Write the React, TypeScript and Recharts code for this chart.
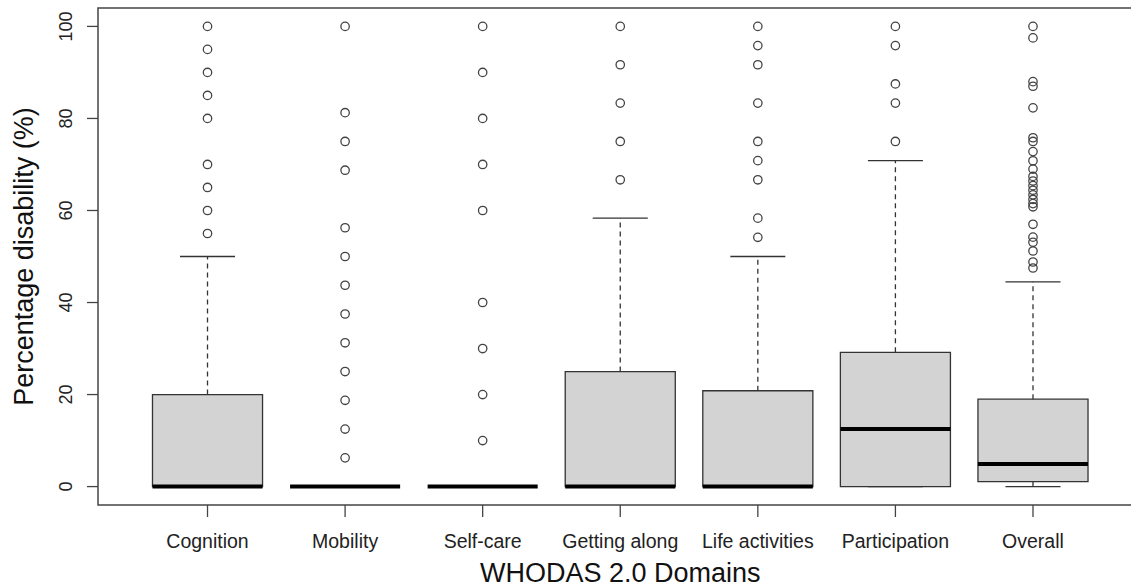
import React from 'react';
import { ComposedChart, XAxis, YAxis, Scatter, ReferenceArea, ReferenceLine } from 'recharts';

// WHODAS 2.0 domain boxplot
const domains = ['Cognition', 'Mobility', 'Self-care', 'Getting along', 'Life activities', 'Participation', 'Overall'];
const lowerWhisker = [0, 0, 0, 0, 0, 0, 0];
const q1 = [0, 0, 0, 0, 0, 0, 1.1];
const median = [0, 0, 0, 0, 0, 12.5, 4.9];
const q3 = [20, 0, 0, 25, 20.83, 29.17, 19];
const upperWhisker = [50, 0, 0, 58.33, 50, 70.83, 44.5];
const outliers = [
  [100, 95, 90, 85, 80, 70, 65, 60, 55],
  [100, 81.25, 75, 68.75, 56.25, 50, 43.75, 37.5, 31.25, 25, 18.75, 12.5, 6.25],
  [100, 90, 80, 70, 60, 40, 30, 20, 10],
  [100, 91.67, 83.33, 75, 66.67],
  [100, 95.83, 91.67, 83.33, 75, 70.83, 66.67, 58.33, 54.17],
  [100, 95.83, 87.5, 83.33, 75],
  [100, 97.5, 88, 87, 82.3, 75.8, 75, 72.8, 70.8, 69, 67.4, 66.4, 65.4, 64.4, 63.4, 62.4, 61.5, 60.8, 57, 54.2, 53.1, 51.2, 48.8, 47.5],
];
const yTicks = [0, 20, 40, 60, 80, 100];
const xTicks = [1, 2, 3, 4, 5, 6, 7];

const font = '"Liberation Sans", Arial, sans-serif';
const ink = '#333';

const outlierData = outliers.flatMap((vals, i) => vals.map((v) => ({ x: i + 1, y: v })));

const XTick = ({ x, y, payload }: any) => (
  <text x={x} y={y + 29} textAnchor="middle" fontSize={19.5} fontFamily={font} fill="#222">
    {domains[payload.value - 1]}
  </text>
);

const YTick = ({ x, y, payload }: any) => (
  <text transform={`translate(${x - 13},${y}) rotate(-90)`} textAnchor="middle" fontSize={18} fontFamily={font} fill="#222">
    {payload.value}
  </text>
);

const Circle = (props: any) => (
  <circle cx={props.cx} cy={props.cy} r={4.2} fill="none" stroke="#444" strokeWidth={1.3} />
);

const App: React.FC = () => {
  return (
    <div style={{ position: 'absolute', left: 0, top: 0, width: 1131, height: 588, overflow: 'hidden', background: '#fff' }}>
      <ComposedChart width={1150} height={588} margin={{ top: 8, right: 7.5, bottom: 0, left: 0 }}>
        <XAxis
          type="number"
          dataKey="x"
          domain={[0.204, 7.796]}
          allowDataOverflow
          ticks={xTicks}
          interval={0}
          height={83}
          tickSize={12}
          axisLine={false}
          tickLine={{ stroke: '#444', strokeWidth: 1.3 }}
          tick={<XTick />}
          label={(p: any) => {
            const vb = p.viewBox;
            return (
              <text x={vb.x + vb.width / 2} y={vb.y + 77} textAnchor="middle" fontSize={27} fontFamily={font} fill="#111">
                WHODAS 2.0 Domains
              </text>
            );
          }}
        />
        <YAxis
          type="number"
          dataKey="y"
          domain={[-4, 104]}
          allowDataOverflow
          ticks={yTicks}
          interval={0}
          width={98}
          tickSize={11}
          axisLine={false}
          tickLine={{ stroke: '#444', strokeWidth: 1.3 }}
          tick={<YTick />}
          label={(p: any) => {
            const vb = p.viewBox;
            return (
              <text transform={`translate(${vb.x + 33},${vb.y + vb.height / 2}) rotate(-90)`} textAnchor="middle" fontSize={27} fontFamily={font} fill="#111">
                Percentage disability (%)
              </text>
            );
          }}
        />
        {/* plot frame */}
        <ReferenceArea x1={0.204} x2={7.796} y1={-4} y2={104} fill="none" stroke="#444" strokeWidth={1.5} ifOverflow="visible" />
        {domains.map((d, i) =>
          q3[i] > q1[i] ? (
            <ReferenceArea key={`box-${d}`} x1={i + 0.6} x2={i + 1.4} y1={q1[i]} y2={q3[i]} fill="#d3d3d3" fillOpacity={1} stroke={ink} strokeWidth={1.3} ifOverflow="visible" />
          ) : null
        )}
        {domains.map((d, i) =>
          upperWhisker[i] > q3[i] ? (
            <ReferenceLine key={`uw-${d}`} segment={[{ x: i + 1, y: q3[i] }, { x: i + 1, y: upperWhisker[i] }]} stroke={ink} strokeWidth={1.3} strokeDasharray="5 4" ifOverflow="visible" />
          ) : null
        )}
        {domains.map((d, i) =>
          q1[i] > lowerWhisker[i] ? (
            <ReferenceLine key={`lw-${d}`} segment={[{ x: i + 1, y: lowerWhisker[i] }, { x: i + 1, y: q1[i] }]} stroke={ink} strokeWidth={1.3} strokeDasharray="5 4" ifOverflow="visible" />
          ) : null
        )}
        {domains.map((d, i) => (
          <ReferenceLine key={`uc-${d}`} segment={[{ x: i + 0.8, y: upperWhisker[i] }, { x: i + 1.2, y: upperWhisker[i] }]} stroke={ink} strokeWidth={1.3} ifOverflow="visible" />
        ))}
        {domains.map((d, i) => (
          <ReferenceLine key={`lc-${d}`} segment={[{ x: i + 0.8, y: lowerWhisker[i] }, { x: i + 1.2, y: lowerWhisker[i] }]} stroke={ink} strokeWidth={1.3} ifOverflow="visible" />
        ))}
        {domains.map((d, i) => (
          <ReferenceLine key={`md-${d}`} segment={[{ x: i + 0.6, y: median[i] }, { x: i + 1.4, y: median[i] }]} stroke="#000" strokeWidth={4} ifOverflow="visible" />
        ))}
        <Scatter data={outlierData} dataKey="y" shape={<Circle />} isAnimationActive={false} />
      </ComposedChart>
    </div>
  );
};

export default App;
